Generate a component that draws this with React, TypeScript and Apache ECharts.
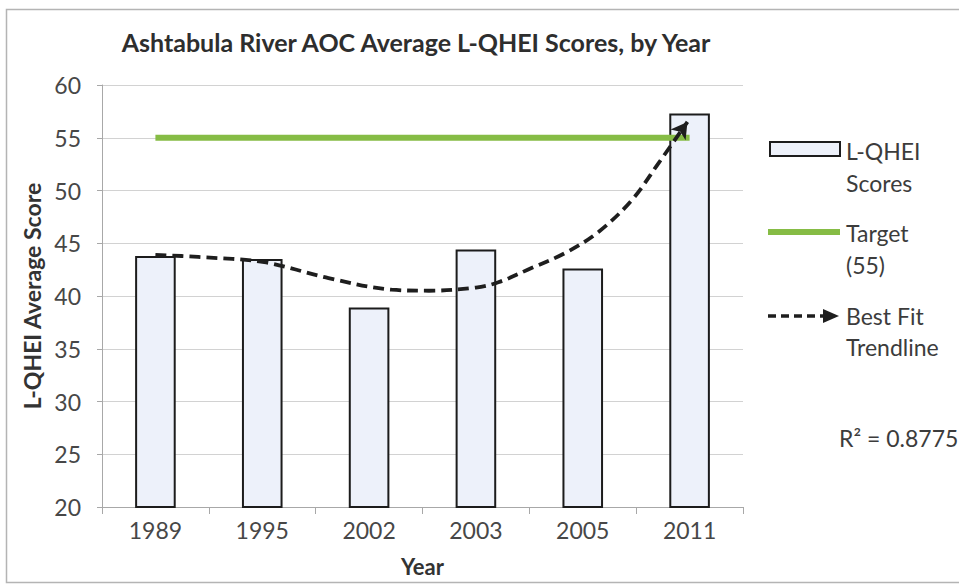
import React, { useEffect, useRef } from "react";
import * as echarts from "echarts";

const years = ["1989", "1995", "2002", "2003", "2005", "2011"];
const scores = [43.8, 43.5, 38.9, 44.4, 42.6, 57.3];
const target = [55, 55, 55, 55, 55, 55];
// best fit trendline, sampled along the category index (0 = 1989 ... 5 = 2011)
const trendX = [0.0, 0.4, 1.02, 1.62, 2.21, 2.56, 3.0, 3.21, 3.52, 3.84, 4.15, 4.46, 4.71, 4.98];
const trendY = [43.9, 43.7, 43.2, 41.7, 40.6, 40.5, 40.8, 41.3, 42.65, 44.1, 46.1, 49.1, 52.6, 56.5];
const yTicks = { min: 20, max: 60, interval: 5 };

const FONT = "Lato, 'Open Sans', sans-serif";

export default function App() {
  const ref = useRef<HTMLDivElement>(null);
  useEffect(() => {
    if (!ref.current) return;
    const chart = echarts.init(ref.current, undefined, { renderer: "svg" });
    const last = trendX.length - 1;
    const trendData = trendX.map((x, i) => {
      if (i === last) {
        return {
          value: [x, trendY[i]],
          symbol: "arrow",
          symbolSize: [14, 16],
          symbolRotate: -36,
          itemStyle: { color: "#1e1e1e" },
        };
      }
      return { value: [x, trendY[i]], symbol: "none" };
    });
    const txt = (x: number, y: number, s: string) => ({
      type: "text",
      x,
      y,
      style: {
        text: s,
        font: `23px ${FONT}`,
        fill: "#3c3c3c",
        verticalAlign: "middle",
        align: "left",
      },
    });
    chart.setOption({
      animation: false,
      backgroundColor: "#ffffff",
      textStyle: { fontFamily: FONT },
      title: {
        text: "Ashtabula River AOC Average L-QHEI Scores, by Year",
        left: 411,
        top: 24,
        textAlign: "center",
        textStyle: { fontFamily: FONT, fontSize: 25, fontWeight: "bold", color: "#2e2e2e" },
      },
      grid: { left: 102, right: 216, top: 85, bottom: 78, containLabel: false },
      xAxis: [
        {
          type: "category",
          data: years,
          name: "Year",
          nameLocation: "middle",
          nameGap: 48,
          nameTextStyle: { fontFamily: FONT, fontSize: 22, fontWeight: "bold", color: "#333" },
          axisLine: { show: true, onZero: false, lineStyle: { color: "#a8a8a8", width: 1 } },
          axisTick: { show: true, alignWithLabel: false, length: 7, lineStyle: { color: "#a8a8a8" } },
          axisLabel: { fontFamily: FONT, fontSize: 23, color: "#474747", margin: 11 },
          splitLine: { show: false },
        },
        {
          type: "value",
          min: -0.5,
          max: 5.5,
          show: false,
          gridIndex: 0,
          axisLine: { show: false, onZero: false },
          splitLine: { show: false },
        },
      ],
      yAxis: {
        type: "value",
        min: yTicks.min,
        max: yTicks.max,
        interval: yTicks.interval,
        name: "L-QHEI Average Score",
        nameLocation: "middle",
        nameGap: 46,
        nameTextStyle: { fontFamily: FONT, fontSize: 23, fontWeight: "bold", color: "#333" },
        axisLine: { show: true, onZero: false, lineStyle: { color: "#a8a8a8", width: 1 } },
        axisTick: { show: true, length: 5, lineStyle: { color: "#a8a8a8" } },
        axisLabel: { fontFamily: FONT, fontSize: 23, color: "#474747", margin: 21 },
        splitLine: { show: true, lineStyle: { color: "#d2d2d2", width: 1 } },
      },
      series: [
        {
          name: "L-QHEI Scores",
          type: "bar",
          data: scores,
          barWidth: "38%",
          itemStyle: { color: "#edf1fa", borderColor: "#1c1c1c", borderWidth: 2 },
          z: 2,
        },
        {
          name: "Target (55)",
          type: "line",
          data: target,
          symbol: "none",
          lineStyle: { color: "#86bc45", width: 6 },
          z: 3,
        },
        {
          name: "Best Fit Trendline",
          type: "line",
          xAxisIndex: 1,
          data: trendData,
          smooth: 0.35,
          lineStyle: { color: "#1e1e1e", width: 3.8, type: [11, 6] },
          z: 4,
        },
      ],
      graphic: [
        {
          type: "rect",
          shape: { x: 6.5, y: 9.5, width: 960, height: 573 },
          style: { fill: "none", stroke: "#b4b4b4", lineWidth: 1.5 },
          silent: true,
        },
        {
          type: "rect",
          shape: { x: 770, y: 142, width: 70, height: 14 },
          style: { fill: "#edf1fa", stroke: "#1c1c1c", lineWidth: 2 },
        },
        txt(846, 151, "L-QHEI"),
        txt(846, 183, "Scores"),
        {
          type: "line",
          shape: { x1: 768, y1: 232, x2: 840, y2: 232 },
          style: { stroke: "#86bc45", lineWidth: 6 },
        },
        txt(846, 233, "Target"),
        txt(846, 265, "(55)"),
        {
          type: "line",
          shape: { x1: 768, y1: 316, x2: 826, y2: 316 },
          style: { stroke: "#1e1e1e", lineWidth: 3.5, lineDash: [8, 5] },
        },
        {
          type: "polygon",
          shape: { points: [[823, 309], [839, 316], [823, 323]] },
          style: { fill: "#1e1e1e" },
        },
        txt(846, 316, "Best Fit"),
        txt(846, 347, "Trendline"),
        txt(839, 438, "R² = 0.8775"),
      ],
    });
    return () => chart.dispose();
  }, []);
  return (
    <div
      ref={ref}
      style={{ position: "absolute", left: 0, top: 0, width: 959, height: 585 }}
    />
  );
}
